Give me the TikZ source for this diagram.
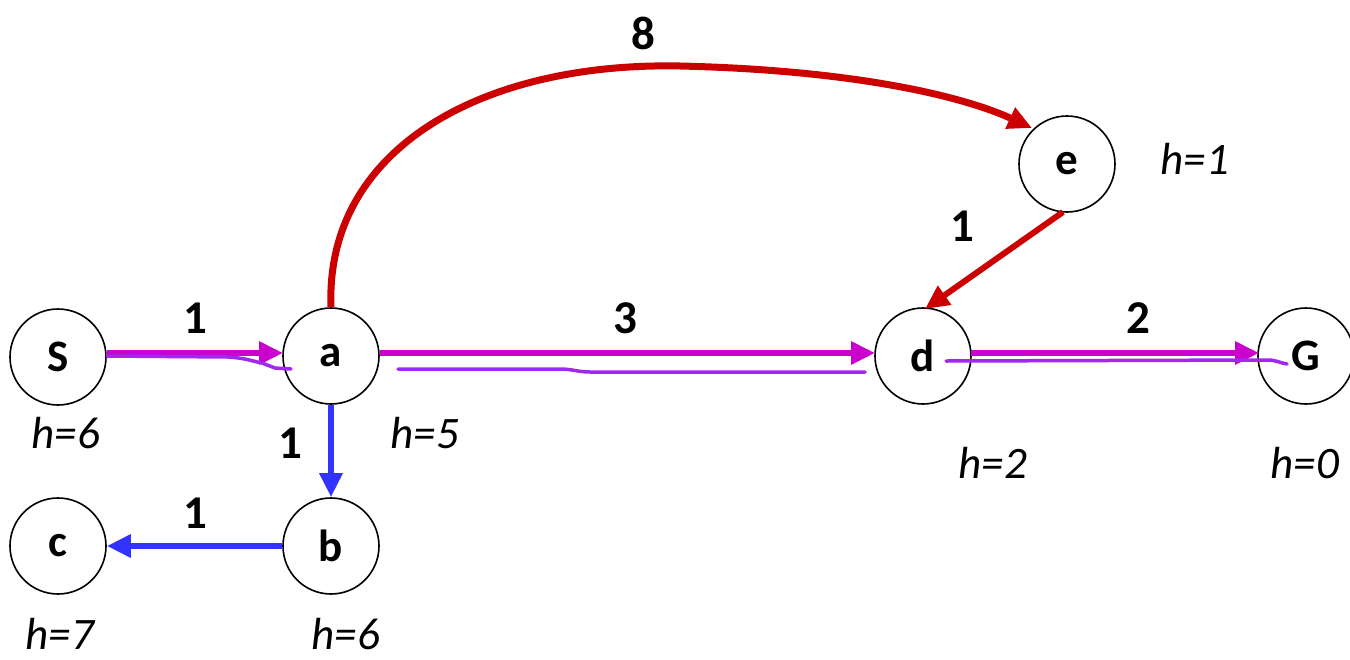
\documentclass[tikz,border=0pt]{standalone}
\usepackage{fontspec}
\setmainfont{Carlito}
\usetikzlibrary{arrows.meta}
\definecolor{mag}{RGB}{204,0,204}
\definecolor{pur}{RGB}{160,40,240}
\definecolor{blu}{RGB}{51,51,255}
\definecolor{rd}{RGB}{204,0,0}
\begin{document}
\begin{tikzpicture}[x=1pt,y=-1pt,
  vtx/.style={circle,draw=black,line width=1.6pt,minimum size=96pt,inner sep=0pt,font=\fontsize{45}{45}\selectfont\bfseries},
  hlab/.style={font=\fontsize{45}{45}\selectfont\itshape,anchor=center},
  wlab/.style={font=\fontsize{47}{47}\selectfont\bfseries,anchor=center},
  arr/.style={line width=6pt,-{Triangle[length=24pt,width=22pt]}},
  hand/.style={pur,line width=3.5pt,line cap=round,line join=round}]
\useasboundingbox (0,0) rectangle (1350,659);
\node[vtx] (S) at (58,357) {S};
\node[vtx] (a) at (331,356) {a};
\node[vtx] (d) at (923,356) {d};
\node[vtx] (G) at (1306,356) {G};
\node[vtx] (e) at (1067,164) {e};
\node[vtx] (b) at (331,546) {b};
\node[vtx] (c) at (58,546) {c};
% heuristics
\node[hlab] (hS) at (66,433) {h=6};
\node[hlab] (ha) at (425,433) {h=5};
\node[hlab] (hd) at (993,463) {h=2};
\node[hlab] (hG) at (1305,463) {h=0};
\node[hlab] (he) at (1195,159) {h=1};
\node[hlab] (hc) at (60,634) {h=7};
\node[hlab] (hb) at (346,634) {h=6};
% magenta edges
\coordinate (Sr) at (107,353);
\coordinate (al) at (283,353);
\coordinate (ar) at (380,353);
\coordinate (dl) at (875,353);
\coordinate (dr) at (971,353);
\coordinate (Gl) at (1259,353);
\draw[arr,mag] (Sr) -- (al);
\draw[arr,mag] (ar) -- (dl);
\draw[arr,mag] (dr) -- (Gl);
% blue edges
\draw[arr,blu] (a.south) -- (b.north);
\draw[arr,blu] (b.west) -- (c.east);
% red edges
\coordinate (es) at (1063,212);
\coordinate (dn) at (925,309);
\draw[arr,rd] (es) -- (dn);
\coordinate (at) at (331,307);
\coordinate (top) at (680,66);
\coordinate (en) at (1032,128);
\draw[arr,rd,line width=7pt] (at) .. controls (325,150) and (480,62) .. (top) .. controls (850,70) and (960,95) .. (en);
% hand-drawn purple path
\coordinate (p1) at (107,356);
\coordinate (p2) at (228,357);
\coordinate (p3) at (262,363);
\coordinate (p4) at (275,368);
\coordinate (p5) at (291,369);
\draw[hand] (p1) -- (p2) .. controls (245,358) and (252,361) .. (p3) -- (p4) -- (p5);
\coordinate (q1) at (398,369);
\coordinate (q2) at (560,369);
\coordinate (q3) at (590,372);
\coordinate (q4) at (865,372);
\draw[hand] (q1) -- (q2) .. controls (572,369) and (578,372) .. (q3) -- (q4);
\coordinate (r1) at (946,361);
\coordinate (r2) at (1268,360);
\coordinate (r3) at (1287,364);
\draw[hand] (r1) -- (r2) .. controls (1276,360) and (1280,363) .. (r3);
% weights
\node[wlab] (w8) at (643,33) {8};
\node[wlab] (wed) at (962,226) {1};
\node[wlab] (wSa) at (195,318) {1};
\node[wlab] (wad) at (625,318) {3};
\node[wlab] (wdG) at (1138,318) {2};
\node[wlab] (wab) at (290,443) {1};
\node[wlab] (wbc) at (195,513) {1};
\end{tikzpicture}
\end{document}
